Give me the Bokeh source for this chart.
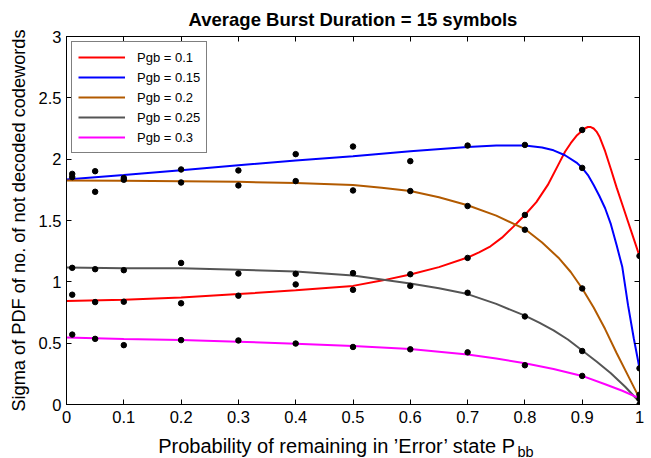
from bokeh.plotting import figure
from bokeh.models import LinearAxis, FixedTicker, Range1d
from bokeh.layouts import column
from bokeh.core.properties import value
from bokeh.embed import file_html
from bokeh.resources import INLINE

TITLE = "Average Burst Duration = 15 symbols"
X_LABEL = "Probability of remaining in \u2019Error\u2019 state P"
X_LABEL_SUB = "bb"
Y_LABEL = "Sigma of PDF of no. of not decoded codewords"

x_ticks = [0, 0.1, 0.2, 0.3, 0.4, 0.5, 0.6, 0.7, 0.8, 0.9, 1]
x_tick_labels = ["0", "0.1", "0.2", "0.3", "0.4", "0.5", "0.6", "0.7", "0.8", "0.9", "1"]
y_ticks = [0, 0.5, 1, 1.5, 2, 2.5, 3]
y_tick_labels = ["0", "0.5", "1", "1.5", "2", "2.5", "3"]

series_names = ["Pgb = 0.1", "Pgb = 0.15", "Pgb = 0.2", "Pgb = 0.25", "Pgb = 0.3"]
series_colors = ["#ff0000", "#0000ff", "#b25a00", "#555555", "#ff00ff"]

# measured points
x_meas = [0.01, 0.05, 0.1, 0.2, 0.3, 0.4, 0.5, 0.6, 0.7, 0.8, 0.9, 1.0]
meas_010 = [0.895, 0.835, 0.838, 0.825, 0.887, 0.979, 0.935, 1.062, 1.195, 1.545, 2.238, 1.211]
meas_015 = [1.880, 1.902, 1.846, 1.916, 1.908, 2.041, 2.103, 1.984, 2.111, 2.116, 1.929, 0.295]
meas_020 = [1.854, 1.734, 1.832, 1.810, 1.786, 1.821, 1.745, 1.740, 1.618, 1.425, 0.946, 0.080]
meas_025 = [1.114, 1.103, 1.095, 1.154, 1.068, 1.065, 1.071, 0.967, 0.911, 0.718, 0.436, 0.000]
meas_030 = [0.570, 0.535, 0.484, 0.525, 0.522, 0.497, 0.469, 0.450, 0.425, 0.320, 0.233, 0.045]

# fitted curves
fit_x_010 = [0, 0.1, 0.2, 0.3, 0.4, 0.5, 0.55, 0.6, 0.65, 0.7, 0.72, 0.74, 0.76, 0.78, 0.8, 0.82,
             0.84, 0.86, 0.87, 0.88, 0.89, 0.9, 0.905, 0.91, 0.915, 0.92, 0.925, 0.93, 0.94, 0.95,
             0.96, 0.97, 0.98, 0.99, 1.0]
fit_y_010 = [0.843, 0.854, 0.872, 0.900, 0.932, 0.967, 1.010, 1.060, 1.120, 1.198, 1.240, 1.290,
             1.360, 1.450, 1.545, 1.650, 1.790, 1.970, 2.060, 2.130, 2.190, 2.232, 2.252, 2.262,
             2.262, 2.250, 2.225, 2.185, 2.065, 1.920, 1.770, 1.630, 1.490, 1.350, 1.210]
fit_x_015 = [0, 0.1, 0.2, 0.3, 0.4, 0.5, 0.6, 0.7, 0.75, 0.8, 0.83, 0.85, 0.87, 0.89, 0.9, 0.91,
             0.92, 0.93, 0.94, 0.95, 0.96, 0.97, 0.98, 0.99, 1.0]
fit_y_015 = [1.835, 1.870, 1.910, 1.950, 1.990, 2.024, 2.065, 2.100, 2.112, 2.111, 2.095, 2.072,
             2.032, 1.972, 1.929, 1.870, 1.790, 1.700, 1.600, 1.470, 1.300, 1.120, 0.810, 0.540,
             0.295]
fit_x_020 = [0, 0.1, 0.2, 0.3, 0.4, 0.5, 0.55, 0.6, 0.65, 0.7, 0.75, 0.8, 0.83, 0.86, 0.88, 0.9,
             0.92, 0.94, 0.96, 0.98, 1.0]
fit_y_020 = [1.827, 1.825, 1.820, 1.815, 1.805, 1.789, 1.767, 1.740, 1.690, 1.624, 1.540, 1.430,
             1.320, 1.190, 1.080, 0.946, 0.790, 0.615, 0.420, 0.235, 0.050]
fit_x_025 = [0, 0.1, 0.2, 0.3, 0.4, 0.5, 0.6, 0.65, 0.7, 0.75, 0.8, 0.825, 0.85, 0.875, 0.9, 0.925,
             0.95, 0.975, 1.0]
fit_y_025 = [1.116, 1.111, 1.111, 1.098, 1.084, 1.052, 0.986, 0.948, 0.900, 0.820, 0.724, 0.668,
             0.605, 0.530, 0.440, 0.350, 0.255, 0.145, 0.020]
fit_x_030 = [0, 0.1, 0.2, 0.3, 0.4, 0.5, 0.6, 0.7, 0.75, 0.8, 0.85, 0.9, 0.94, 0.97, 1.0]
fit_y_030 = [0.547, 0.534, 0.526, 0.512, 0.496, 0.477, 0.453, 0.407, 0.375, 0.336, 0.290, 0.233,
             0.165, 0.112, 0.050]

fits = [(fit_x_010, fit_y_010), (fit_x_015, fit_y_015), (fit_x_020, fit_y_020),
        (fit_x_025, fit_y_025), (fit_x_030, fit_y_030)]
meas = [meas_010, meas_015, meas_020, meas_025, meas_030]

FONT = "Liberation Sans"

p = figure(width=651, height=430, x_range=(0, 1), y_range=(0, 3),
           output_backend="svg", toolbar_location=None,
           min_border_left=66, min_border_right=12, min_border_top=35, min_border_bottom=26)
p.background_fill_color = "white"
p.border_fill_color = "white"
p.outline_line_color = "black"
p.outline_line_width = 1
p.xgrid.visible = False
p.ygrid.visible = False

p.title.text = TITLE
p.title.align = "center"
p.title.text_font = FONT
p.title.text_font_size = "18.5px"
p.title.text_font_style = "bold"
p.title.text_color = "black"
p.title.standoff = 13

for ax, ticks, labels in ((p.xaxis[0], x_ticks, x_tick_labels), (p.yaxis[0], y_ticks, y_tick_labels)):
    ax.ticker = FixedTicker(ticks=ticks)
    ax.major_label_overrides = {t: l for t, l in zip(ticks, labels)}
    ax.major_tick_in = 5
    ax.major_tick_out = 0
    ax.minor_tick_line_color = None
    ax.axis_line_color = "black"
    ax.major_tick_line_color = "black"
    ax.major_label_text_font = FONT
    ax.major_label_text_font_size = "16.5px"
    ax.major_label_text_color = "black"

p.xaxis[0].major_label_standoff = 6
p.yaxis[0].major_label_standoff = 5
p.yaxis[0].axis_label = Y_LABEL
p.yaxis[0].axis_label_text_font = FONT
p.yaxis[0].axis_label_text_font_size = "18.2px"
p.yaxis[0].axis_label_text_font_style = "normal"
p.yaxis[0].axis_label_text_color = "black"
p.yaxis[0].axis_label_standoff = 7

top_ax = LinearAxis(ticker=FixedTicker(ticks=x_ticks), major_label_text_font_size="0px",
                    major_label_text_color=None,
                    major_tick_in=5, major_tick_out=0, minor_tick_line_color=None,
                    major_label_standoff=0, axis_line_color="black")
right_ax = LinearAxis(ticker=FixedTicker(ticks=y_ticks), major_label_text_font_size="0px",
                      major_label_text_color=None,
                      major_tick_in=5, major_tick_out=0, minor_tick_line_color=None,
                      major_label_standoff=0, axis_line_color="black")
p.add_layout(top_ax, "above")
p.add_layout(right_ax, "right")

for (fx, fy), name, color in zip(fits, series_names, series_colors):
    p.line(fx, fy, line_color=color, line_width=2, legend_label=name)

for m in meas:
    p.scatter(x_meas, m, marker="circle", size=5.5, fill_color="black", line_color="black")

lg = p.legend[0]
lg.location = "top_left"
lg.margin = 5
lg.padding = 6
lg.spacing = 2
lg.glyph_width = 47
lg.glyph_height = 18
lg.label_height = 18
lg.label_standoff = 12
lg.label_text_font = FONT
lg.label_text_font_size = "13px"
lg.label_text_color = "black"
lg.border_line_color = "black"
lg.border_line_width = 1
lg.background_fill_color = "white"
lg.background_fill_alpha = 1

# strip below the axes holding the x-axis label with its subscript (shares the x scale)
p2 = figure(width=651, height=28, x_range=p.x_range, y_range=Range1d(0, 28),
            x_axis_type=None, y_axis_type=None, output_backend="svg", toolbar_location=None,
            min_border_left=66, min_border_right=12, min_border_top=0, min_border_bottom=0)
p2.outline_line_color = None
p2.background_fill_color = "white"
p2.border_fill_color = "white"
p2.xgrid.visible = False
p2.ygrid.visible = False
p2.text(x=[0.784], y=[13], text=[X_LABEL], text_align="right", text_baseline="alphabetic",
        text_font=value(FONT), text_font_size="20px", text_color="black")
p2.text(x=[0.787], y=[7], text=[X_LABEL_SUB], text_align="left", text_baseline="alphabetic",
        text_font=value(FONT), text_font_size="14.5px", text_color="black")

layout = column(p, p2, spacing=0)
open("out.html", "w").write(file_html(layout, INLINE))
